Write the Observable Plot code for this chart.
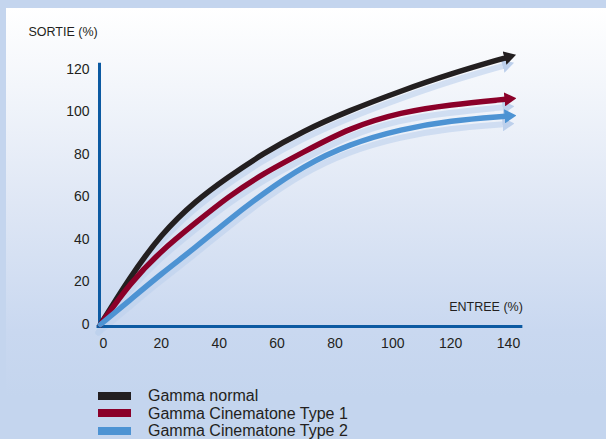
<!DOCTYPE html>
<html><head><meta charset="utf-8">
<script src="https://cdn.jsdelivr.net/npm/d3@7"></script>
<script src="https://cdn.jsdelivr.net/npm/@observablehq/plot@0.6"></script>
<style>
html,body{margin:0;padding:0;background:#c4d5ee;width:606px;height:439px;overflow:hidden;font-family:"Liberation Sans",Arial,sans-serif;color:#231f20;}
#panel{position:absolute;left:6px;top:8px;width:600px;height:431px;background:linear-gradient(#ffffff 0%,#f3f6fb 18%,#dfe7f5 45%,#c9d8f0 75%,#c4d5ee 90%);}
#wrap{position:absolute;left:0;top:0;width:606px;}
#legend{margin-left:98px;margin-top:17px;font-size:16px;line-height:17.5px;}
.row{display:flex;align-items:center;height:17.5px;}
.sw{width:33px;height:8px;margin-right:17px;}
</style></head>
<body>
<div id="panel"></div>
<div id="wrap"><div id="chart"></div><div id="legend"></div></div>
<script>
const inputs = [0, 10, 21, 33, 44, 56, 70, 86, 104, 121, 140];
const gammaNormal = [0, 22, 42.7, 58.4, 69.3, 80.3, 91, 100.7, 110, 118, 125.5];
const cineType1 = [0, 19.2, 34.8, 48, 60, 70.9, 81, 92.5, 100, 103.5, 106];
const cineType2 = [0, 11.3, 23.9, 36.4, 48.9, 61.5, 74.5, 85, 92, 96, 98];
const seriesNames = ["Gamma normal", "Gamma Cinematone Type 1", "Gamma Cinematone Type 2"];
const seriesColors = ["#231f20", "#8b0029", "#4d93d3"];
const xTicks = [0, 20, 40, 60, 80, 100, 120, 140];
const yTicks = [0, 20, 40, 60, 80, 100, 120];

const allValues = [gammaNormal, cineType1, cineType2];
const rows = [];
allValues.forEach((vals, s) => vals.forEach((v, i) => rows.push({series: seriesNames[s], x: inputs[i], y: v})));

function arrowMarker(color) {
  const ns = "http://www.w3.org/2000/svg";
  const m = document.createElementNS(ns, "marker");
  m.setAttribute("viewBox", "0 -7 12 14");
  m.setAttribute("markerWidth", "12");
  m.setAttribute("markerHeight", "14");
  m.setAttribute("refX", "1");
  m.setAttribute("refY", "0");
  m.setAttribute("orient", "auto");
  m.setAttribute("markerUnits", "userSpaceOnUse");
  const p = document.createElementNS(ns, "path");
  p.setAttribute("d", "M0,-7L12,0L0,7Z");
  p.setAttribute("fill", color);
  p.setAttribute("stroke", "none");
  m.appendChild(p);
  return m;
}

const axisColor = "#0c5aa2";
const chart = Plot.plot({
  width: 606, height: 370,
  marginTop: 0, marginRight: 0, marginBottom: 0, marginLeft: 0,
  x: {domain: [0, 140], range: [100, 505], axis: null},
  y: {domain: [0, 120], range: [324, 69], axis: null},
  color: {domain: seriesNames, range: seriesColors},
  style: {background: "transparent", fontFamily: "Liberation Sans, Arial, sans-serif", color: "#231f20"},
  marks: [
    Plot.line(rows, {x: "x", y: "y", z: "series", stroke: "#bdd0ec", strokeOpacity: 0.6, strokeWidth: 6, dx: -2, dy: 8, curve: "basis", markerEnd: arrowMarker}),
    Plot.ruleY([0], {x1: -1.2, x2: 146, stroke: axisColor, strokeWidth: 3, dy: 2}),
    Plot.ruleX([0], {y1: -1.5, y2: 123, stroke: axisColor, strokeWidth: 3, dx: -1}),
    Plot.line(rows, {x: "x", y: "y", z: "series", stroke: "series", strokeWidth: 5.5, curve: "basis", markerEnd: arrowMarker}),
    Plot.text(yTicks, {x: 0, y: d => d, text: d => String(d), textAnchor: "end", dx: -11, fontSize: 14, fill: "#231f20"}),
    Plot.text(xTicks, {x: d => d, y: 0, text: d => String(d), dx: 3, dy: 19, fontSize: 14, fill: "#231f20"}),
    Plot.text(["ENTREE (%)"], {x: 146, y: 0, text: d => d, textAnchor: "end", dy: -18, fontSize: 12.5, fill: "#231f20"}),
    Plot.text(["SORTIE (%)"], {frameAnchor: "top-left", text: d => d, textAnchor: "start", dx: 28, dy: 27, fontSize: 12.5, fill: "#231f20"})
  ]
});
document.getElementById("chart").appendChild(chart);

const legend = document.getElementById("legend");
seriesNames.forEach((n, i) => {
  const r = document.createElement("div"); r.className = "row";
  const s = document.createElement("span"); s.className = "sw"; s.style.background = seriesColors[i];
  const t = document.createElement("span"); t.textContent = n;
  r.appendChild(s); r.appendChild(t); legend.appendChild(r);
});
</script>
</body></html>
